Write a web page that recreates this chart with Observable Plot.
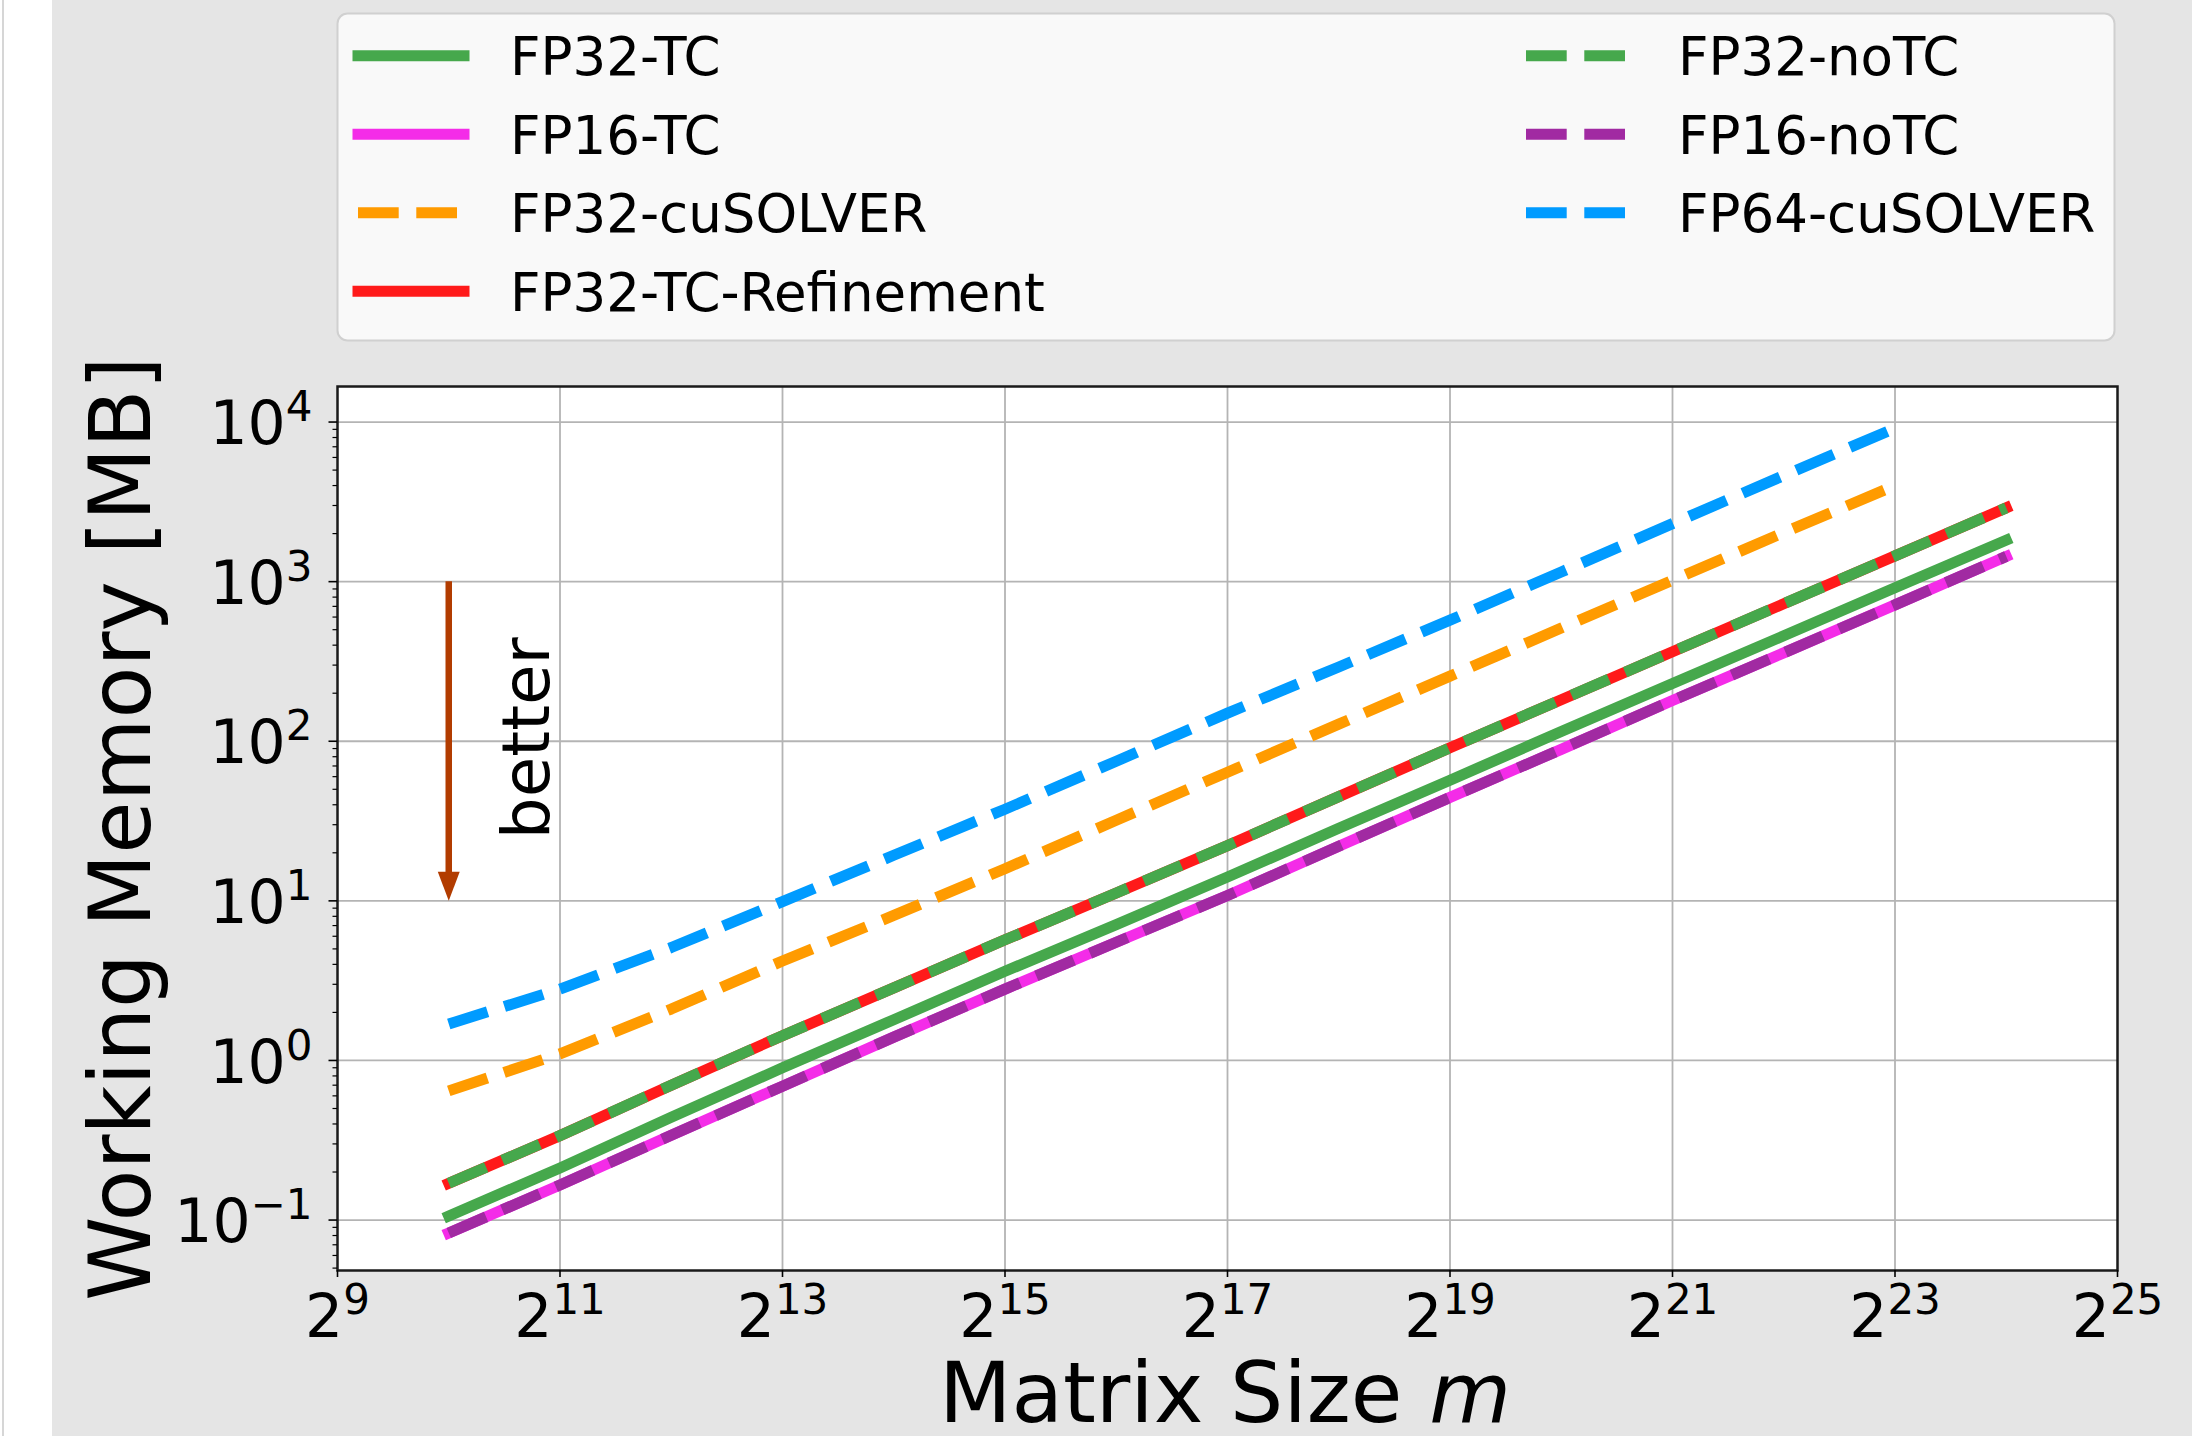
<!DOCTYPE html>
<html><head><meta charset="utf-8">
<script src="https://cdn.jsdelivr.net/npm/d3@7"></script>
<script src="https://cdn.jsdelivr.net/npm/@observablehq/plot@0.6"></script>
<style>
html,body{margin:0;padding:0;background:#e5e5e5;}
#wrap{position:relative;width:2192px;height:1436px;background:#e5e5e5;overflow:hidden;font-family:"DejaVu Sans",sans-serif;}
#strip{position:absolute;left:0;top:0;width:52px;height:1436px;background:#fff;}
#strip::before{content:"";position:absolute;left:2px;top:0;width:2px;height:100%;background:#d6d6d6;}
#wrap svg{position:absolute;left:0;top:0;}
</style></head><body><div id="wrap"><div id="strip"></div></div>
<script>
// ---------- data ----------
const mSizes = [1024, 2048, 4096, 8192, 16384, 32768, 65536, 131072, 262144, 524288, 1048576, 2097152, 4194304, 8388608, 16777216];
const seriesNames = ["FP32-TC", "FP16-TC", "FP32-cuSOLVER", "FP32-TC-Refinement", "FP32-noTC", "FP16-noTC", "FP64-cuSOLVER"];
const fp32TC           = [0.106, 0.212, 0.44, 0.90, 1.80, 3.62, 7.1, 14.1, 28.5, 57, 115, 230, 458, 915, 1820];
const fp16TC           = [0.083, 0.166, 0.34, 0.69, 1.40, 2.8, 5.5, 10.8, 22, 44.5, 89, 180, 358, 715, 1440];
const fp32cuSOLVER     = [0.645, 1.10, 2.10, 4.2, 8.1, 15.9, 32, 64, 128, 256, 512, 1020, 2030, 4000];
const fp32TCRefinement = [0.170, 0.338, 0.70, 1.43, 2.85, 5.7, 11.2, 22.2, 45, 91, 182, 364, 727, 1450, 2900];
const fp32noTC         = [0.170, 0.338, 0.70, 1.43, 2.85, 5.7, 11.2, 22.2, 45, 91, 182, 364, 727, 1450, 2900];
const fp16noTC         = [0.083, 0.166, 0.34, 0.69, 1.40, 2.8, 5.5, 10.8, 22, 44.5, 89, 180, 358, 715, 1440];
const fp64cuSOLVER     = [1.69, 2.8, 5.1, 9.9, 19.3, 37.5, 75, 150, 292, 574, 1150, 2310, 4620, 9150];
const seriesValues = [fp32TC, fp16TC, fp32cuSOLVER, fp32TCRefinement, fp32noTC, fp16noTC, fp64cuSOLVER];
const seriesColors = ["#46a84c", "#f42ce8", "#ff9b00", "#ff1a1a", "#46a84c", "#a12aa2", "#009bff"];
const seriesDashed = [false, false, true, false, true, true, true];

const xTickValues = [512, 2048, 8192, 32768, 131072, 524288, 2097152, 8388608, 33554432];
const xTickLabels = ["2^9", "2^11", "2^13", "2^15", "2^17", "2^19", "2^21", "2^23", "2^25"];
const yTickValues = [0.1, 1, 10, 100, 1000, 10000];
const yTickLabels = ["10^\u22121", "10^0", "10^1", "10^2", "10^3", "10^4"];
const xDomain = [512, 33554432];
const yDomain = [0.0483, 16700];

const arrowM = [1024], arrowFrom = [1000], arrowTo = [10];
const noteText = ["better"], noteM = [1024], noteV = [100];
const xLabel = "Matrix Size m";
const yLabel = "Working Memory [MB]";

// ---------- build ----------
const rows = seriesNames.map((name, s) => seriesValues[s].map((v, i) => ({name, m: mSizes[i], v})));
const DASH = "40.7,17.6";
const LW = 11;
const arrowColor = "#b23c00";
const gridStyle = {stroke: "#b4b4b4", strokeOpacity: 1, strokeWidth: 1.8};

const minorY = d3.scaleLog().domain(yDomain).ticks().filter(t => !yTickValues.some(v => Math.abs(v - t) / v < 1e-9));

const headSymbol = {
  draw(context) {
    context.moveTo(0, 0);
    context.lineTo(-11, -29);
    context.lineTo(11, -29);
    context.closePath();
  }
};

const lineMarks = rows.map((data, s) => Plot.line(data, Object.assign({
  x: "m", y: "v",
  stroke: seriesColors[s],
  strokeWidth: LW,
  strokeLinejoin: "round",
  strokeLinecap: seriesDashed[s] ? "butt" : "square"
}, seriesDashed[s] ? {strokeDasharray: DASH} : {})));

const arrowData = arrowM.map((m, i) => ({m, from: arrowFrom[i], to: arrowTo[i]}));
const noteData = noteText.map((t, i) => ({t, m: noteM[i], v: noteV[i]}));

const plot = Plot.plot({
  width: 2192, height: 1436,
  marginTop: 386, marginLeft: 337, marginRight: 75, marginBottom: 166,
  style: {background: "transparent", fontFamily: "DejaVu Sans", color: "black", overflow: "visible"},
  x: {type: "log", base: 2, domain: xDomain, label: null},
  y: {type: "log", domain: yDomain, label: null},
  marks: [
    Plot.frame({fill: "white", stroke: "none"}),
    Plot.gridX(xTickValues.slice(1, -1), gridStyle),
    Plot.gridY(yTickValues, gridStyle),
    ...lineMarks,
    Plot.ruleX(arrowData, {x: "m", y1: "from", y2: "to", stroke: arrowColor, strokeWidth: 6.5, insetBottom: 27}),
    Plot.dot(arrowData, {x: "m", y: "to", symbol: headSymbol, fill: arrowColor, stroke: "none"}),
    Plot.text(noteData, {x: "m", y: "v", text: "t", rotate: -90, lineAnchor: "bottom", textAnchor: "middle", dx: 100, dy: -3, fontSize: 66, fill: "black"}),
    Plot.frame({stroke: "#1a1a1a", strokeWidth: 2.5}),
    Plot.axisX(xTickValues, {tickSize: 7, tickPadding: 17, fontSize: 60, tickFormat: (d, i) => xTickLabels[xTickValues.indexOf(d)], label: null, strokeWidth: 1.6}),
    Plot.axisY(minorY, {tickSize: 4.5, tickFormat: () => "", label: null, strokeWidth: 1.2}),
    Plot.axisY(yTickValues, {tickSize: 8.5, tickPadding: 16.5, fontSize: 60, tickFormat: d => yTickLabels[yTickValues.indexOf(d)], label: null, strokeWidth: 1.6}),
    Plot.text([yLabel], {frameAnchor: "left", rotate: -90, lineAnchor: "bottom", textAnchor: "middle", dx: -188, fontSize: 85, fill: "black"}),
    Plot.text([xLabel], {frameAnchor: "bottom", lineAnchor: "bottom", textAnchor: "middle", dx: -2.5, dy: 151.5, fontSize: 84, fill: "black"})
  ]
});

document.getElementById("wrap").appendChild(plot);

// ---------- text post-processing (superscripts, italic m) ----------
const NS = "http://www.w3.org/2000/svg";
plot.querySelectorAll('[aria-label="y-axis tick label"] text').forEach(t => {
  if (t.textContent) t.setAttribute("y", "0.37em");
});
plot.querySelectorAll("text").forEach(t => {
  const s = t.textContent;
  const i = s.indexOf("^");
  if (i >= 0) {
    t.textContent = "";
    const base = document.createElementNS(NS, "tspan");
    base.textContent = s.slice(0, i);
    const sup = document.createElementNS(NS, "tspan");
    sup.textContent = s.slice(i + 1);
    sup.setAttribute("font-size", "42");
    sup.setAttribute("dy", "-23");
    t.append(base, sup);
  } else if (s === xLabel) {
    t.textContent = "";
    t.style.whiteSpace = "pre";
    const a = document.createElementNS(NS, "tspan");
    a.textContent = "Matrix Size ";
    const b = document.createElementNS(NS, "tspan");
    b.textContent = "m";
    b.setAttribute("font-style", "italic");
    t.append(a, b);
  }
});

// ---------- legend ----------
const leg = d3.select("#wrap").append("svg")
  .attr("width", 2192).attr("height", 360)
  .style("font-family", "DejaVu Sans");
leg.append("rect")
  .attr("x", 337.5).attr("y", 13.5).attr("width", 1777).attr("height", 327)
  .attr("rx", 10).attr("fill", "#f9f9f9").attr("stroke", "#d0d0d0").attr("stroke-width", 2);
const colX = [352, 1520];
seriesNames.forEach((name, s) => {
  const col = s < 4 ? 0 : 1;
  const row = s < 4 ? s : s - 4;
  const cy = 55.7 + 78.5 * row;
  const x0 = colX[col];
  leg.append("line")
    .attr("x1", x0 + 6).attr("x2", x0 + 112).attr("y1", cy).attr("y2", cy)
    .attr("stroke", seriesColors[s]).attr("stroke-width", LW)
    .attr("stroke-linecap", seriesDashed[s] ? "butt" : "square")
    .attr("stroke-dasharray", seriesDashed[s] ? DASH : null);
  leg.append("text")
    .attr("x", x0 + 158).attr("y", cy + 19.5)
    .attr("font-size", 53).attr("fill", "black")
    .text(name);
});
</script></body></html>
